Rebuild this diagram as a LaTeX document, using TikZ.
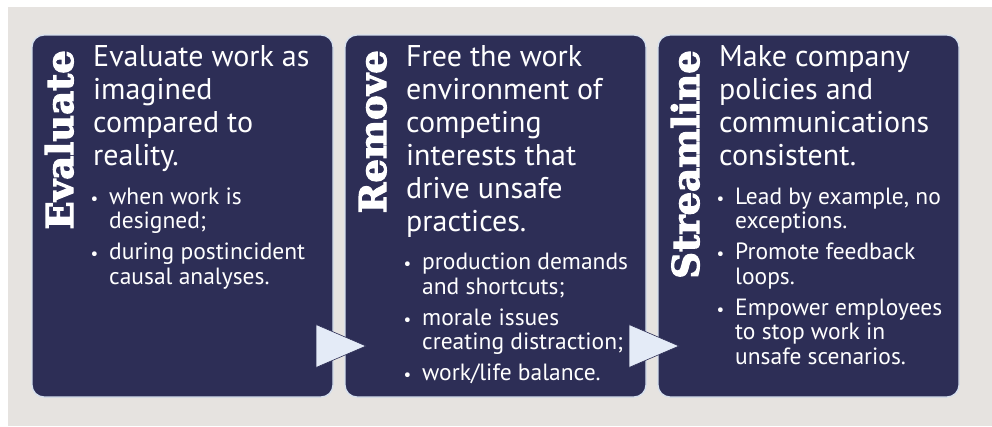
\documentclass[tikz,border=0pt]{standalone}
\usepackage{fontspec}
\setmainfont{PT Sans}
\newfontfamily\slabfont[FakeBold=3]{DejaVu Serif}
\usetikzlibrary{positioning,shapes.geometric}

\definecolor{navy}{RGB}{45,46,86}
\definecolor{rim}{RGB}{214,224,238}
\definecolor{pale}{RGB}{228,235,247}
\definecolor{stone}{RGB}{230,227,224}

% hanging bullet for the sub points
\newcommand{\blt}{\llap{{\fontsize{17}{17}\selectfont\textbullet}\hspace{11pt}}}

\begin{document}
\begin{tikzpicture}[x=1pt,y=-1pt,
  node distance=12pt,
  card/.style={draw=rim,fill=navy,line width=1.3pt,rounded corners=12pt,
    minimum width=301pt,minimum height=362pt,inner sep=0pt,outer sep=0pt},
  verb/.style={rotate=90,anchor=base east,inner sep=0pt,text=white,
    font=\slabfont\bfseries\fontsize{37}{37}\selectfont},
  % multi-line nodes sit on the baseline of their last line
  lead/.style={anchor=base west,align=left,inner sep=0pt,text=white,
    font=\fontsize{30}{33}\selectfont},
  points/.style={anchor=base west,align=left,inner sep=0pt,text=white,
    font=\fontsize{23.5}{24.5}\selectfont},
  pointer/.style={isosceles triangle,isosceles triangle stretches,
    minimum width=43pt,minimum height=50pt,inner sep=0pt,outer sep=0pt,
    fill=pale,draw=navy,line width=0.6pt}
]
  \useasboundingbox[fill=white] (0,0) rectangle (992,426);
  \fill[stone] (8,7) rectangle (992,426);

  % the three cards
  \node[card,anchor=north west] (evaluate) at (32,35) {};
  \node[card,right=of evaluate] (remove) {};
  \node[card,right=of remove] (streamline) {};

  % card 1
  \node[verb] (evalword) at ([xshift=41pt,yshift=-15pt]evaluate.north west) {Evaluate};
  \node[lead] (evallead) at ([xshift=61pt,yshift=-130pt]evaluate.north west)
    {Evaluate work as\\imagined\\compared to\\reality.};
  \node[points] (evalpoints) at ([xshift=77pt,yshift=-249pt]evaluate.north west)
    {\blt when work is\\designed;\\[6.5pt]
     \blt during postincident\\causal analyses.};

  % card 2
  \node[verb] (remword) at ([xshift=41pt,yshift=-15pt]remove.north west) {Remove};
  \node[lead] (remlead) at ([xshift=61pt,yshift=-196pt]remove.north west)
    {Free the work\\environment of\\competing\\interests that\\drive unsafe\\practices.};
  \node[points] (rempoints) at ([xshift=77pt,yshift=-345.5pt]remove.north west)
    {\blt production demands\\and shortcuts;\\[6.5pt]
     \blt morale issues\\creating distraction;\\[6.5pt]
     \blt work/life balance.};

  % card 3
  \node[verb] (strword) at ([xshift=41pt,yshift=-15pt]streamline.north west) {Streamline};
  \node[lead] (strlead) at ([xshift=61pt,yshift=-130pt]streamline.north west)
    {Make company\\policies and\\communications\\consistent.};
  \node[points] (strpoints) at ([xshift=77pt,yshift=-329pt]streamline.north west)
    {\blt Lead by example, no\\exceptions.\\[6.5pt]
     \blt Promote feedback\\loops.\\[6.5pt]
     \blt Empower employees\\to stop work in\\unsafe scenarios.};

  % arrows between the cards
  \node[pointer,anchor=apex] (next1) at ([xshift=21pt,yshift=51pt]remove.south west) {};
  \node[pointer,anchor=apex] (next2) at ([xshift=21pt,yshift=51pt]streamline.south west) {};
\end{tikzpicture}
\end{document}
